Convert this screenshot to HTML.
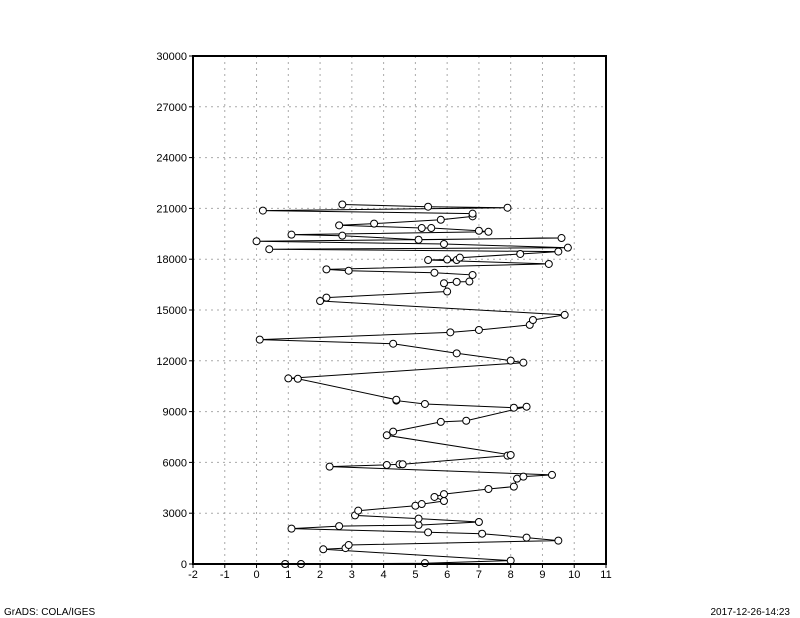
<!DOCTYPE html>
<html><head><meta charset="utf-8">
<style>
html,body{margin:0;padding:0;background:#fff;}
svg{display:block;font-family:"Liberation Sans",sans-serif;}
</style></head>
<body>
<svg id="chart" width="800" height="618" viewBox="0 0 800 618">
<g id="grid"></g>
<g id="series"></g>
<rect x="193" y="56" width="413" height="508" fill="none" stroke="#000" stroke-width="2"/>
<g id="axes"></g>
<text x="4" y="615" font-size="10">GrADS: COLA/IGES</text>
<text x="790" y="615" font-size="10" text-anchor="end">2017-12-26-14:23</text>
</svg>
<script>
const xTicks = [-2,-1,0,1,2,3,4,5,6,7,8,9,10,11];
const yTicks = [0,3000,6000,9000,12000,15000,18000,21000,24000,27000,30000];
const xValues = [0.9,1.4,5.3,8.0,2.1,2.8,2.9,9.5,8.5,7.1,5.4,1.1,2.6,5.1,7.0,5.1,3.1,3.2,5.0,5.2,5.9,5.6,5.9,7.3,8.1,8.2,8.4,9.3,2.3,4.1,4.5,4.6,7.9,8.0,4.1,4.3,5.8,6.6,8.5,8.1,5.3,4.4,4.4,1.3,1.0,8.4,8.0,6.3,4.3,0.1,6.1,7.0,8.6,8.7,9.7,2.0,2.2,6.0,5.9,6.3,6.7,6.8,5.6,2.9,2.2,9.2,5.4,6.0,6.3,6.4,8.3,9.5,0.4,9.8,5.9,0.0,9.6,5.1,2.7,1.1,7.3,7.0,5.5,5.2,2.6,3.7,5.8,6.8,6.8,0.2,7.9,5.4,2.7];
const yValues = [0,0,50,200,870,940,1120,1380,1560,1790,1870,2090,2240,2300,2480,2680,2870,3150,3440,3540,3720,3960,4130,4430,4570,5040,5160,5260,5750,5850,5890,5890,6400,6440,7600,7820,8390,8460,9290,9230,9450,9650,9700,10940,10960,11890,12010,12440,13010,13250,13680,13820,14120,14410,14710,15530,15730,16090,16580,16660,16680,17070,17200,17320,17400,17720,17950,17980,17950,18090,18310,18450,18590,18680,18900,19060,19250,19150,19390,19450,19620,19680,19840,19840,20000,20100,20330,20530,20690,20870,21040,21100,21230];

const X0=193,X1=606,Y0=564,Y1=56;
const xs = v => X0 + (v - (-2)) / 13 * (X1 - X0);
const ys = v => Y0 - v / 30000 * (Y0 - Y1);
const NS="http://www.w3.org/2000/svg";
function mk(tag, attrs, parent){const e=document.createElementNS(NS,tag);for(const k in attrs)e.setAttribute(k,attrs[k]);parent.appendChild(e);return e;}
const grid=document.getElementById('grid'), axes=document.getElementById('axes'), series=document.getElementById('series');

xTicks.forEach(t=>{
  const x=xs(t);
  if(t>-2&&t<11){const g=mk('line',{x1:x,y1:Y1,x2:x,y2:Y0,stroke:'#aaa','stroke-width':1,'stroke-dasharray':'2,4'},grid);
  
  }
  const tk=mk('line',{x1:x,y1:Y0,x2:x,y2:Y0+4,stroke:'#000'},axes);
  
  
  const lb=mk('text',{x:x,y:Y0+14,'font-size':11,'text-anchor':'middle'},axes);
  lb.textContent=String(t);
  
  
});
yTicks.forEach(t=>{
  const y=ys(t);
  if(t>0&&t<30000){const g=mk('line',{x1:X0,y1:y,x2:X1,y2:y,stroke:'#aaa','stroke-width':1,'stroke-dasharray':'2,4'},grid);
  
  }
  const tk=mk('line',{x1:X0-4,y1:y,x2:X0,y2:y,stroke:'#000'},axes);
  
  
  const lb=mk('text',{x:X0-6,y:y+4,'font-size':11,'text-anchor':'end'},axes);
  lb.textContent=String(t);
  
  
});
const pts=xValues.map((v,i)=>xs(v).toFixed(1)+','+ys(yValues[i]).toFixed(1)).join(' ');
const pl=mk('polyline',{points:pts,fill:'none',stroke:'#000','stroke-width':1},series);


xValues.forEach((v,i)=>{
  const c=mk('circle',{cx:xs(v),cy:ys(yValues[i]),r:3.5,fill:'#fff',stroke:'#000','stroke-width':1},series);
  
  
});
</script>
</body></html>
